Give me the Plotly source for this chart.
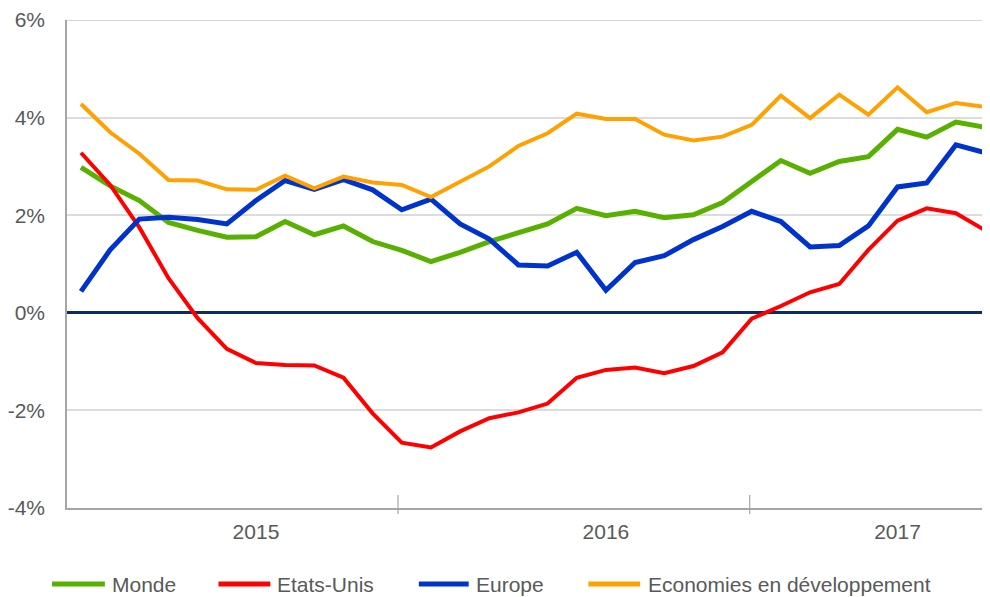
import plotly.graph_objects as go

# Monthly index (0 = first month shown)
months = list(range(32))

monde = [2.98, 2.60, 2.30, 1.85, 1.69, 1.55, 1.56, 1.87, 1.60, 1.78, 1.46, 1.28,
         1.05, 1.24, 1.46, 1.65, 1.82, 2.14, 1.99, 2.08, 1.95, 2.01, 2.26, 2.69,
         3.12, 2.86, 3.10, 3.20, 3.76, 3.60, 3.91, 3.80]
etats_unis = [3.28, 2.62, 1.75, 0.71, -0.11, -0.74, -1.03, -1.07, -1.08, -1.33, -2.06, -2.66,
              -2.76, -2.43, -2.16, -2.04, -1.86, -1.33, -1.17, -1.12, -1.24, -1.09, -0.81, -0.12,
              0.14, 0.42, 0.59, 1.29, 1.89, 2.14, 2.04, 1.69]
europe = [0.44, 1.29, 1.92, 1.96, 1.91, 1.82, 2.30, 2.71, 2.53, 2.73, 2.52, 2.11,
          2.33, 1.82, 1.51, 0.98, 0.96, 1.24, 0.46, 1.03, 1.17, 1.50, 1.77, 2.08,
          1.87, 1.35, 1.38, 1.78, 2.58, 2.66, 3.44, 3.28]
economies_dev = [4.28, 3.70, 3.26, 2.72, 2.71, 2.53, 2.52, 2.81, 2.55, 2.79, 2.67, 2.62,
                 2.37, 2.69, 3.00, 3.42, 3.68, 4.08, 3.97, 3.97, 3.65, 3.53, 3.61, 3.85,
                 4.45, 3.99, 4.47, 4.06, 4.62, 4.11, 4.30, 4.22]

year_tick_pos = [6, 18, 28]
year_labels = ["2015", "2016", "2017"]
year_dividers = [10.87, 22.93]

y_ticks = [-4, -2, 0, 2, 4, 6]
y_labels = [f"{v}%" for v in y_ticks]

series = [
    ("Monde", monde, "#58B000", 5),
    ("Etats-Unis", etats_unis, "#FF0000", 4),
    ("Europe", europe, "#0033CC", 5),
    ("Economies en développement", economies_dev, "#FFA100", 4),
]

FONT = "Liberation Sans, Arial, sans-serif"
TXT = "#595959"

fig = go.Figure()
for name, vals, col, w in series:
    fig.add_trace(go.Scatter(x=months, y=vals, mode="lines", name=name,
                             line=dict(color=col, width=w), showlegend=False))

shapes = []
for d in year_dividers:
    shapes.append(dict(type="line", xref="x", yref="paper", x0=d, x1=d,
                       y0=0.0266, y1=-0.0123, line=dict(color="#a6a6a6", width=1.2)))
shapes.append(dict(type="line", xref="paper", yref="y", x0=0, x1=1, y0=6, y1=6,
                   line=dict(color="#c8c8c8", width=1.5)))

# manual legend (positions in plot-area fractions)
PW, PH = 926.0, 488.0
def px_x(p):
    return (p - 64) / PW
ly = (508 - 584) / PH
legend_items = [
    ("Monde", "#58B000", 49, 102, 107),
    ("Etats-Unis", "#FF0000", 216, 268, 273),
    ("Europe", "#0033CC", 417, 467, 472),
    ("Economies en développement", "#FFA100", 587, 639, 645),
]
annotations = []
for name, col, a, b, t in legend_items:
    shapes.append(dict(type="line", xref="paper", yref="paper", x0=px_x(a), x1=px_x(b),
                       y0=ly, y1=ly, line=dict(color=col, width=5)))
    annotations.append(dict(xref="paper", yref="paper", x=px_x(t), y=ly, text=name,
                            showarrow=False, xanchor="left", yanchor="middle",
                            font=dict(family=FONT, size=21, color=TXT)))

fig.update_layout(
    width=982, height=589, autosize=False,
    margin=dict(l=56, r=0, t=12, b=89),
    plot_bgcolor="white", paper_bgcolor="white",
    font=dict(family=FONT, size=21, color=TXT),
    shapes=shapes, annotations=annotations,
    xaxis=dict(range=[-0.48, 31.17], tickvals=year_tick_pos, ticktext=year_labels,
               ticks="", showgrid=False, zeroline=False, showline=True,
               linecolor="#a6a6a6", linewidth=1.5, ticklabelstandoff=4,
               tickfont=dict(family=FONT, size=21, color=TXT)),
    yaxis=dict(range=[-4, 6], tickvals=y_ticks, ticktext=y_labels, ticks="",
               showgrid=True, gridcolor="#dcdcdc", gridwidth=1.5,
               zeroline=True, zerolinecolor="#0B2C5F", zerolinewidth=3,
               showline=True, linecolor="#a6a6a6", linewidth=1.5,
               ticklabelstandoff=16,
               tickfont=dict(family=FONT, size=21, color=TXT)),
)

fig.write_html("out.html")
